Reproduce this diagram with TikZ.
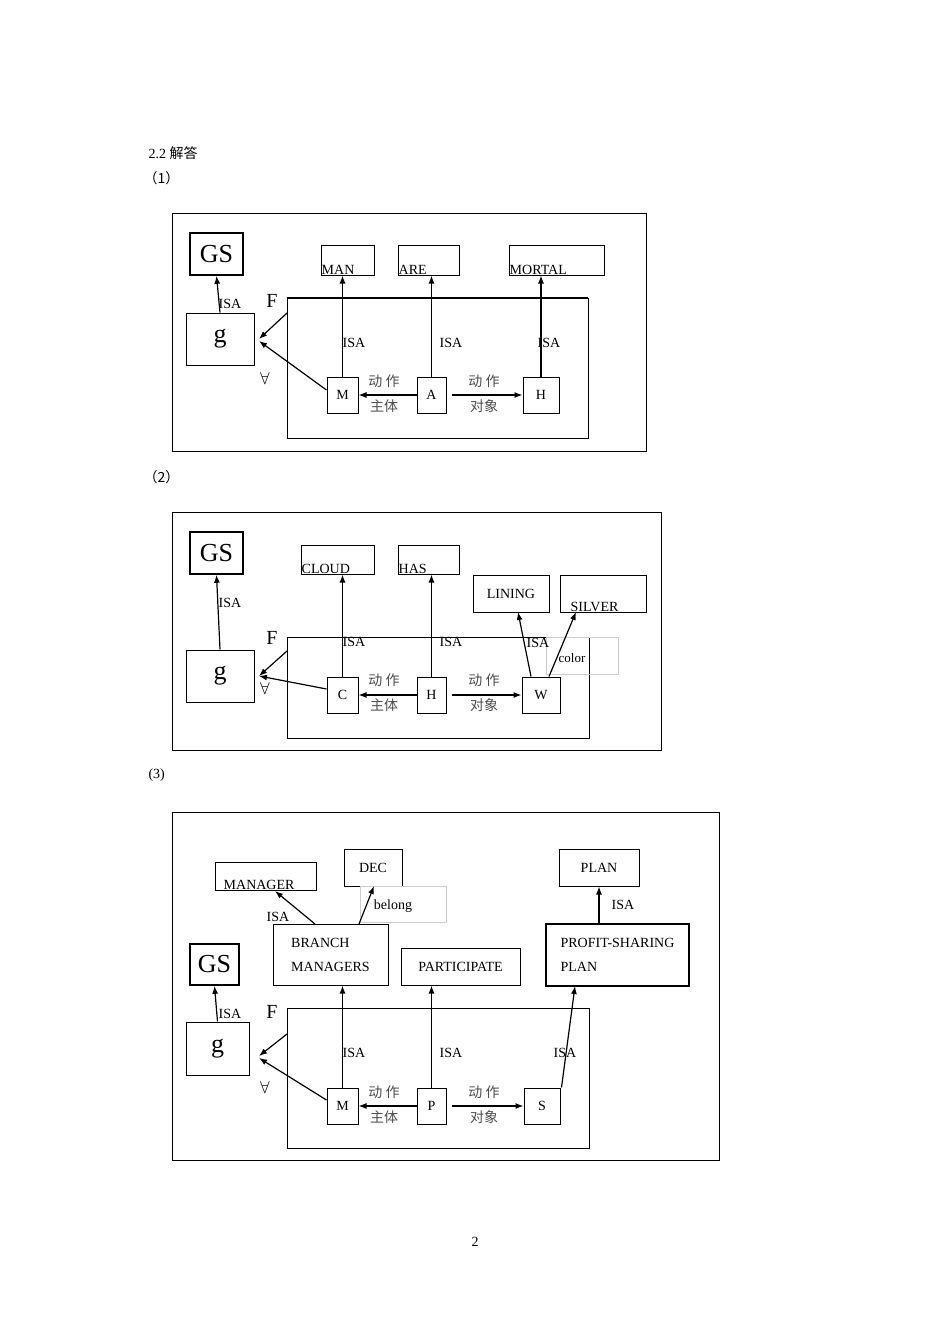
\documentclass[tikz,border=0pt]{standalone}
\usepackage{fontspec}
\setmainfont{Liberation Serif}
\newfontfamily\cjk{Noto Sans CJK SC}
\usetikzlibrary{arrows.meta}
\newcommand\bx[7][]{\node[box,#1,minimum width={(#5-#3)*1pt},minimum height={(#6-#4)*1pt}] (#2) at ({(#3+#5)/2},{-(#4+#6)/2}) {#7};}
\newcommand\blb[7][]{\node[box,#1,minimum width={(#5-#3)*1pt},minimum height={(#6-#4)*1pt},label={[anchor=south west,inner sep=1pt,font=\fontsize{14}{16}\selectfont]south west:#7}] (#2) at ({(#3+#5)/2},{-(#4+#6)/2}) {};}
\begin{document}
\begin{tikzpicture}[x=1pt,y=1pt,
  every node/.style={font=\fontsize{14}{16}\selectfont},
  box/.style={draw,line width=1pt,inner sep=0pt},
  thick box/.style={line width=1.6pt},
  light/.style={draw=black!20,line width=0.6pt},
  arr/.style={-{Latex[length=8pt,width=6pt]},line width=1.2pt},
  big/.style={font=\fontsize{26}{28}\selectfont},
  ch/.style={font=\cjk\fontsize{14}{16}\selectfont,text=black!70},
  lbl/.style={inner sep=0pt}]
\useasboundingbox (0,0) rectangle (950,-1344);
% headings
\node[anchor=west] at (145,-153) {2.2 {\cjk 解答}：};
\node[anchor=west] at (140,-178) {\cjk （1）};
\node[anchor=west] at (140,-477) {\cjk （2）};
\node[anchor=west] at (145,-775) {(3)};
\node at (475,-1242) {2};

% ===== Diagram 1 =====
\draw[line width=1pt] (172,-213) rectangle (646,-451);
\draw[line width=1pt] (287,-298) rectangle (588,-438);
\draw[line width=2pt] (287,-298) -- (588,-298);
\bx[thick box,big]{gsA}{190}{233}{243}{275}{GS}
\bx[big]{gA}{186}{313}{254}{365}{g}
\blb{manA}{321}{245}{374}{275}{MAN}
\blb{areA}{398}{245}{459}{275}{ARE}
\blb{morA}{509}{245}{604}{275}{MORTAL}
\bx{mA}{327}{377}{358}{413}{M}
\bx{aA}{417}{377}{446}{413}{A}
\bx{hA}{523}{377}{559}{413}{H}
\coordinate (fA) at (287,-313);
\draw[arr] (gA.north) -- (gsA.south);
\draw[arr] (mA.north) -- (manA.south -| mA.north);
\draw[arr] (aA.north) -- (areA.south -| aA.north);
\draw[arr] (hA.north) -- (morA.south -| hA.north);
\draw[arr] (aA.west) -- (mA.east);
\draw[arr] ([xshift=5pt]aA.east) -- (hA.west);
\draw[arr] (fA) -- (259,-339);
\draw[arr] ([yshift=5pt]mA.west) -- (259,-341);
\node at (230,-304) {ISA};
\node[big] at (272,-301) {\fontsize{20}{22}\selectfont F};
\node at (265,-378) {\fontsize{18}{20}\selectfont$\forall$};
\node at (354,-343) {ISA};\node at (451,-343) {ISA};\node at (549,-343) {ISA};
\node[ch] at (384,-381) {动 作};\node[ch] at (384,-406) {主体};
\node[ch] at (484,-381) {动 作};\node[ch] at (484,-406) {对象};

% ===== Diagram 2 =====
\draw[line width=1pt] (172,-512) rectangle (661,-750);
\draw[line width=1pt] (287,-637) rectangle (589,-738);
\bx[thick box,big]{gsB}{190}{532}{243}{574}{GS}
\bx[big]{gB}{186}{650}{254}{702}{g}
\blb{clB}{301}{545}{374}{574}{CLOUD}
\blb{hasB}{398}{545}{459}{574}{HAS}
\bx{linB}{473}{575}{549}{612}{LINING}
\blb{silB}{560}{575}{646}{612}{\hspace{10pt}SILVER}
\node[light,minimum width=72pt,minimum height=37pt] (colB) at (582,-655.5) {};
\node[font=\fontsize{13}{15}\selectfont] at (572,-658) {color};
\bx{cB}{327}{677}{358}{713}{C}
\bx{hB}{417}{677}{446}{713}{H}
\bx{wB}{522}{677}{560}{713}{W}
\coordinate (fB) at (287,-651);
\draw[arr] (gB.north) -- (gsB.south);
\draw[arr] (cB.north) -- (clB.south -| cB.north);
\draw[arr] (hB.north) -- (hasB.south -| hB.north);
\draw[arr] ([xshift=-10pt]wB.north) -- (518,-612);
\draw[arr] ([xshift=8pt]wB.north) -- (576,-612);
\draw[arr] (hB.west) -- (cB.east);
\draw[arr] ([xshift=5pt]hB.east) -- (wB.west);
\draw[arr] (fB) -- (259,-676);
\draw[arr] ([yshift=6pt]cB.west) -- (259,-676);
\node at (230,-603) {ISA};
\node at (272,-638) {\fontsize{20}{22}\selectfont F};
\node at (265,-688) {\fontsize{18}{20}\selectfont$\forall$};
\node at (354,-642) {ISA};\node at (451,-642) {ISA};\node at (538,-643) {ISA};
\node[ch] at (384,-680) {动 作};\node[ch] at (384,-705) {主体};
\node[ch] at (484,-680) {动 作};\node[ch] at (484,-705) {对象};

% ===== Diagram 3 =====
\draw[line width=1pt] (172,-812) rectangle (719,-1160);
\draw[line width=1pt] (287,-1008) rectangle (589,-1148);
\bx[thick box,big]{gsC}{190}{944}{239}{985}{GS}
\bx[big]{gC}{186}{1022}{249}{1075}{g}
\blb{mgrC}{215}{862}{316}{890}{\hspace{8pt}MANAGER}
\bx{decC}{344}{849}{402}{886}{DEC}
\node[light,minimum width=86pt,minimum height=36pt] (belC) at (403,-904) {};
\node at (393,-906) {belong};
\bx{planC}{559}{849}{639}{886}{PLAN}
\bx[align=left]{bmC}{273}{924}{388}{985}{BRANCH\\[8pt]MANAGERS\hspace{10pt}}
\bx{parC}{401}{948}{520}{985}{PARTICIPATE}
\bx[thick box,align=left]{psC}{546}{924}{689}{986}{PROFIT-SHARING\\[8pt]PLAN\hspace{88pt}}
\bx{mC}{327}{1088}{358}{1124}{M}
\bx{pC}{417}{1088}{446}{1124}{P}
\bx{sC}{524}{1088}{560}{1124}{S}
\coordinate (fC) at (287,-1034);
\draw[arr] (gC.north) -- (gsC.south);
\draw[arr] (mC.north) -- (bmC.south -| mC.north);
\draw[arr] (pC.north) -- (parC.south -| pC.north);
\draw[arr] ([xshift=1pt]sC.north east) -- (575,-986);
\draw[arr] (315,-924) -- (275,-891);
\draw[arr] (359,-924) -- (374,-886);
\draw[arr] (planC.south |- psC.north) -- (planC.south);
\draw[arr] (pC.west) -- (mC.east);
\draw[arr] ([xshift=5pt]pC.east) -- (sC.west);
\draw[arr] (fC) -- (259,-1056);
\draw[arr] ([yshift=6pt]mC.west) -- (259,-1058);
\node at (230,-1014) {ISA};
\node at (278,-917) {ISA};
\node at (623,-905) {ISA};
\node at (272,-1012) {\fontsize{20}{22}\selectfont F};
\node at (265,-1087) {\fontsize{18}{20}\selectfont$\forall$};
\node at (354,-1053) {ISA};\node at (451,-1053) {ISA};\node at (565,-1053) {ISA};
\node[ch] at (384,-1092) {动 作};\node[ch] at (384,-1117) {主体};
\node[ch] at (484,-1092) {动 作};\node[ch] at (484,-1117) {对象};
\end{tikzpicture}
\end{document}
